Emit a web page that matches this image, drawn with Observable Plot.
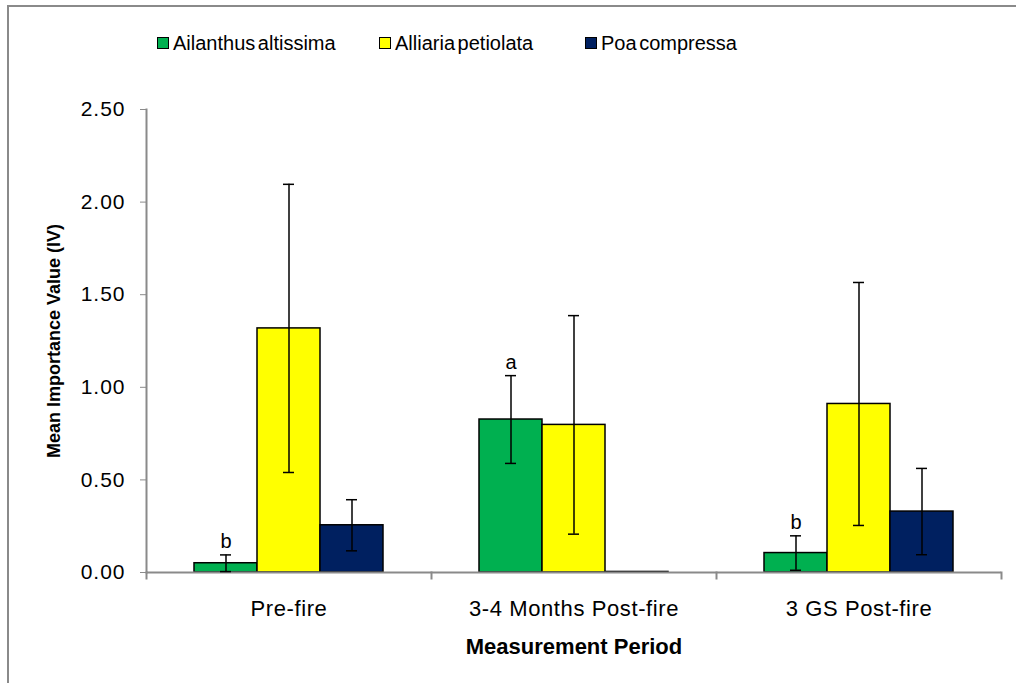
<!DOCTYPE html>
<html>
<head>
<meta charset="utf-8">
<script src="https://cdn.jsdelivr.net/npm/d3@7"></script>
<script src="https://cdn.jsdelivr.net/npm/@observablehq/plot@0.6"></script>
<style>
  html, body { margin: 0; padding: 0; background: #fff; }
  #wrap { position: relative; width: 1016px; height: 683px; overflow: hidden; font-family: "Liberation Sans", Arial, sans-serif; color: #000; }
  #border { position: absolute; left: 7px; top: 5px; width: 1100px; height: 800px; border-left: 2px solid #8a8a8a; border-top: 2px solid #8a8a8a; }
  #legend { position: absolute; top: 30px; left: 0; width: 1016px; height: 26px; font-size: 20px; word-spacing: -3px; }
  .item { position: absolute; top: 0; display: flex; align-items: center; height: 26px; white-space: nowrap; }
  .sw { width: 10px; height: 10px; border: 1px solid #000; margin-right: 4px; }
  #chart { position: absolute; left: 0; top: 0; }
  g[aria-label="fx-axis label"] text { font-weight: bold; font-size: 22px; letter-spacing: 0; }
  g[aria-label="y-axis label"] text { font-weight: bold; font-size: 18px; letter-spacing: 0; }
  g[aria-label="y-axis tick label"] text { letter-spacing: 1px; }
  g[aria-label="fx-axis tick label"] text { letter-spacing: 0.6px; }
</style>
</head>
<body>
<div id="wrap">
  <div id="border"></div>
  <div id="legend"></div>
  <div id="chart"></div>
</div>
<script>
// ---- data ----
const periods = ["Pre-fire", "3-4 Months Post-fire", "3 GS Post-fire"];
const species = ["Ailanthus altissima", "Alliaria petiolata", "Poa compressa"];
const colors = ["#00B050", "#FFFF00", "#002060"];
const ailanthusMean = [0.05, 0.826, 0.105];
const ailanthusErr  = [0.045, 0.237, 0.093];
const alliariaMean  = [1.318, 0.797, 0.91];
const alliariaErr   = [0.778, 0.59, 0.656];
const poaMean       = [0.255, 0.003, 0.329];
const poaErr        = [0.138, 0, 0.233];
const ailanthusLetters = ["b", "a", "b"];
const yTicks = [0, 0.5, 1.0, 1.5, 2.0, 2.5];
const legendLeft = [157, 379, 585];

// ---- table ----
const means = [ailanthusMean, alliariaMean, poaMean];
const errs = [ailanthusErr, alliariaErr, poaErr];
const rows = [];
periods.forEach((p, i) => species.forEach((s, j) => rows.push({
  period: p, species: s, mean: means[j][i], err: errs[j][i],
  letter: j === 0 ? ailanthusLetters[i] : ""
})));
const errRows = rows.filter(d => d.err > 0);
const letterRows = rows.filter(d => d.letter);

// ---- legend ----
const legend = document.getElementById("legend");
species.forEach((s, j) => {
  const it = document.createElement("div");
  it.className = "item";
  it.style.left = legendLeft[j] + "px";
  const sw = document.createElement("div");
  sw.className = "sw";
  sw.style.background = colors[j];
  const t = document.createElement("span");
  t.textContent = s;
  it.appendChild(sw); it.appendChild(t);
  legend.appendChild(it);
});

// ---- chart ----
const H = 683, mt = 109, mb = 111;
const plotH = H - mt - mb;
const chart = Plot.plot({
  width: 1016,
  height: H,
  marginTop: mt,
  marginBottom: mb,
  marginLeft: 145,
  marginRight: 15,
  style: { fontFamily: "'Liberation Sans', Arial, sans-serif", fontSize: "20px", color: "#000", background: "transparent", overflow: "visible" },
  fx: { domain: periods, padding: 0 },
  x: { domain: species, paddingInner: 0, paddingOuter: 0.74, axis: null },
  y: { domain: [0, 2.5] },
  color: { domain: species, range: colors },
  marks: [
    Plot.barY(rows, { fx: "period", x: "species", y: "mean", fill: "species", stroke: "#000", strokeWidth: 1.5 }),
    Plot.ruleY([0], { stroke: "#8a8a8a", strokeWidth: 2 }),
    Plot.frame({ anchor: "left", facetAnchor: "left", stroke: "#8a8a8a", strokeWidth: 2 }),
    Plot.frame({ anchor: "left", insetTop: plotH, insetBottom: -6, stroke: "#8a8a8a", strokeWidth: 2 }),
    Plot.frame({ anchor: "right", facetAnchor: "right", insetTop: plotH, insetBottom: -6, stroke: "#8a8a8a", strokeWidth: 2 }),
    Plot.ruleX(errRows, { fx: "period", x: "species", y1: d => d.mean - d.err, y2: d => d.mean + d.err, stroke: "#000", strokeWidth: 1.5 }),
    Plot.tickY(errRows, { fx: "period", x: "species", y: d => d.mean + d.err, insetLeft: 26, insetRight: 26, stroke: "#000", strokeWidth: 1.5 }),
    Plot.tickY(errRows, { fx: "period", x: "species", y: d => d.mean - d.err, insetLeft: 26, insetRight: 26, stroke: "#000", strokeWidth: 1.5 }),
    Plot.text(letterRows, { fx: "period", x: "species", y: d => d.mean + d.err, text: "letter", lineAnchor: "bottom", dy: -7, fontSize: 20, fill: "#000" }),
    Plot.axisY({ ticks: yTicks, tickFormat: d3.format(".2f"), tickSize: 6, tickPadding: 15, stroke: "#8a8a8a", fill: "#000", fontSize: 21,
      label: "Mean Importance Value (IV)", labelAnchor: "center", labelArrow: "none", labelOffset: 99 }),
    Plot.axisFx({ anchor: "bottom", tickSize: 0, tickPadding: 28, fontSize: 22, fill: "#000",
      label: "Measurement Period", labelAnchor: "center", labelArrow: "none", labelOffset: 81 })
  ]
});
document.getElementById("chart").appendChild(chart);
</script>
</body>
</html>
